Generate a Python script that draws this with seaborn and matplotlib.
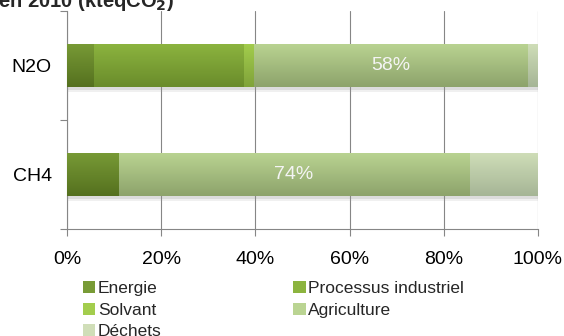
import matplotlib
matplotlib.use("Agg")
import matplotlib.pyplot as plt
import matplotlib.patheffects as pe
from matplotlib.colors import to_rgba
from matplotlib.patches import Patch
import numpy as np
import pandas as pd
import seaborn as sns

# Share of each sector in the emissions of each gas (%)
gaz = ["N2O", "CH4"]
secteurs = ["Energie", "Processus industriel", "Solvant", "Agriculture", "Déchets"]
energie = [5.6, 11.0]
processus = [31.8, 0.0]
solvant = [2.2, 0.0]
agriculture = [58.1, 74.4]
dechets = [2.3, 14.6]
xticks = [0, 20, 40, 60, 80, 100]

# top / bottom colours of the vertical gradient of each sector
couleurs = {
    "Energie": ("#789b36", "#55701f"),
    "Processus industriel": ("#8cb43f", "#6a8c2b"),
    "Solvant": ("#a3cd4d", "#80a33a"),
    "Agriculture": ("#bad492", "#8da36b"),
    "Déchets": ("#d0deb8", "#a5b596"),
}

sns.set_theme(style="white")
plt.rcParams["font.family"] = ["Liberation Sans", "DejaVu Sans"]

df = pd.DataFrame({"gaz": gaz, "Energie": energie,
                   "Processus industriel": processus, "Solvant": solvant,
                   "Agriculture": agriculture, "Déchets": dechets})
cum = df[secteurs].cumsum(axis=1)
cum["gaz"] = df["gaz"]

fig = plt.figure(figsize=(5.64, 3.36), dpi=100)
ax = fig.add_axes([67 / 564, 107 / 336, 471 / 564, 218 / 336])

grid_col = "#868686"
ax.set_axisbelow(True)

# cumulative bars, widest first so that each sector sits on top of the next
n_before = 0
drawn = []
for i, s in enumerate(reversed(secteurs)):
    sns.barplot(data=cum, x=s, y="gaz", order=gaz, orient="h", width=0.4,
                color=couleurs[s][1], saturation=1, ax=ax, linewidth=0)
    new = ax.patches[n_before:]
    n_before = len(ax.patches)
    for p in new:
        p.set_zorder(3 + 2 * i)
        drawn.append((s, p, 3 + 2 * i))
        if i == 0:
            p.set_path_effects([
                pe.SimplePatchShadow(offset=(0, -3.2), shadow_rgbFace=(0.62, 0.62, 0.62), alpha=0.15),
                pe.SimplePatchShadow(offset=(0, -1.8), shadow_rgbFace=(0.55, 0.55, 0.55), alpha=0.2),
                pe.Normal()])

# vertical gradient fill clipped to each bar
for s, p, z in drawn:
    w = p.get_width()
    if w <= 0:
        continue
    top, bot = np.array(to_rgba(couleurs[s][0])), np.array(to_rgba(couleurs[s][1]))
    t = np.linspace(0, 1, 64)[:, None]
    grad = (top[None, :] * (1 - t) + bot[None, :] * t)[:, None, :]
    x0, y0, h = p.get_x(), p.get_y(), p.get_height()
    im = ax.imshow(grad, extent=(x0, x0 + w, y0 + h, y0), origin="upper",
                   aspect="auto", interpolation="bilinear", zorder=z + 1)
    im.set_clip_path(p)

ax.set_xlim(0, 100)
ax.set_ylim(len(gaz) - 0.5, -0.5)

# value labels on the agriculture segment
for j, g in enumerate(gaz):
    start = energie[j] + processus[j] + solvant[j]
    ax.text(start + agriculture[j] / 2, j, f"{agriculture[j]:.0f}%",
            ha="center", va="center", color="#f4f4f4", fontsize=14, zorder=20)

ax.set_xticks(xticks)
ax.set_xticklabels([f"{v}%" for v in xticks], fontsize=14, color="black")
ax.set_yticks([-0.5, 0.5, 1.5])
ax.set_yticklabels([])
ax.set_yticks(range(len(gaz)), minor=True)
ax.set_yticklabels(gaz, minor=True, fontsize=14, color="black")
ax.tick_params(axis="y", which="major", length=5, width=0.8, color=grid_col, left=True)
ax.tick_params(axis="y", which="minor", length=0, pad=11)
ax.tick_params(axis="x", length=5, width=0.8, color=grid_col, bottom=True, pad=11)
ax.xaxis.grid(True, color=grid_col, linewidth=0.8)
ax.set_xlabel("")
ax.set_ylabel("")
for side in ["top", "right"]:
    ax.spines[side].set_visible(False)
for side in ["left", "bottom"]:
    ax.spines[side].set_color(grid_col)
    ax.spines[side].set_linewidth(0.8)

fig.text(-0.004, 1 - 7 / 336, "en 2010 (kteqCO$_\\mathbf{2}$)", fontsize=14.5,
         fontweight="bold", va="baseline", ha="left")

ordre = ["Energie", "Solvant", "Déchets", "Processus industriel", "Agriculture"]
handles = [Patch(facecolor=couleurs[s][0], edgecolor="none", label=s) for s in ordre]
fig.legend(handles=handles, loc="upper left", bbox_to_anchor=(83 / 564, 1 - 281 / 336),
           ncol=2, frameon=False, fontsize=12.5, handlelength=0.7, handleheight=0.7,
           handletextpad=0.15, columnspacing=7.6, labelspacing=0.37, borderpad=0,
           borderaxespad=0)

fig.savefig("out.png", dpi=100)
